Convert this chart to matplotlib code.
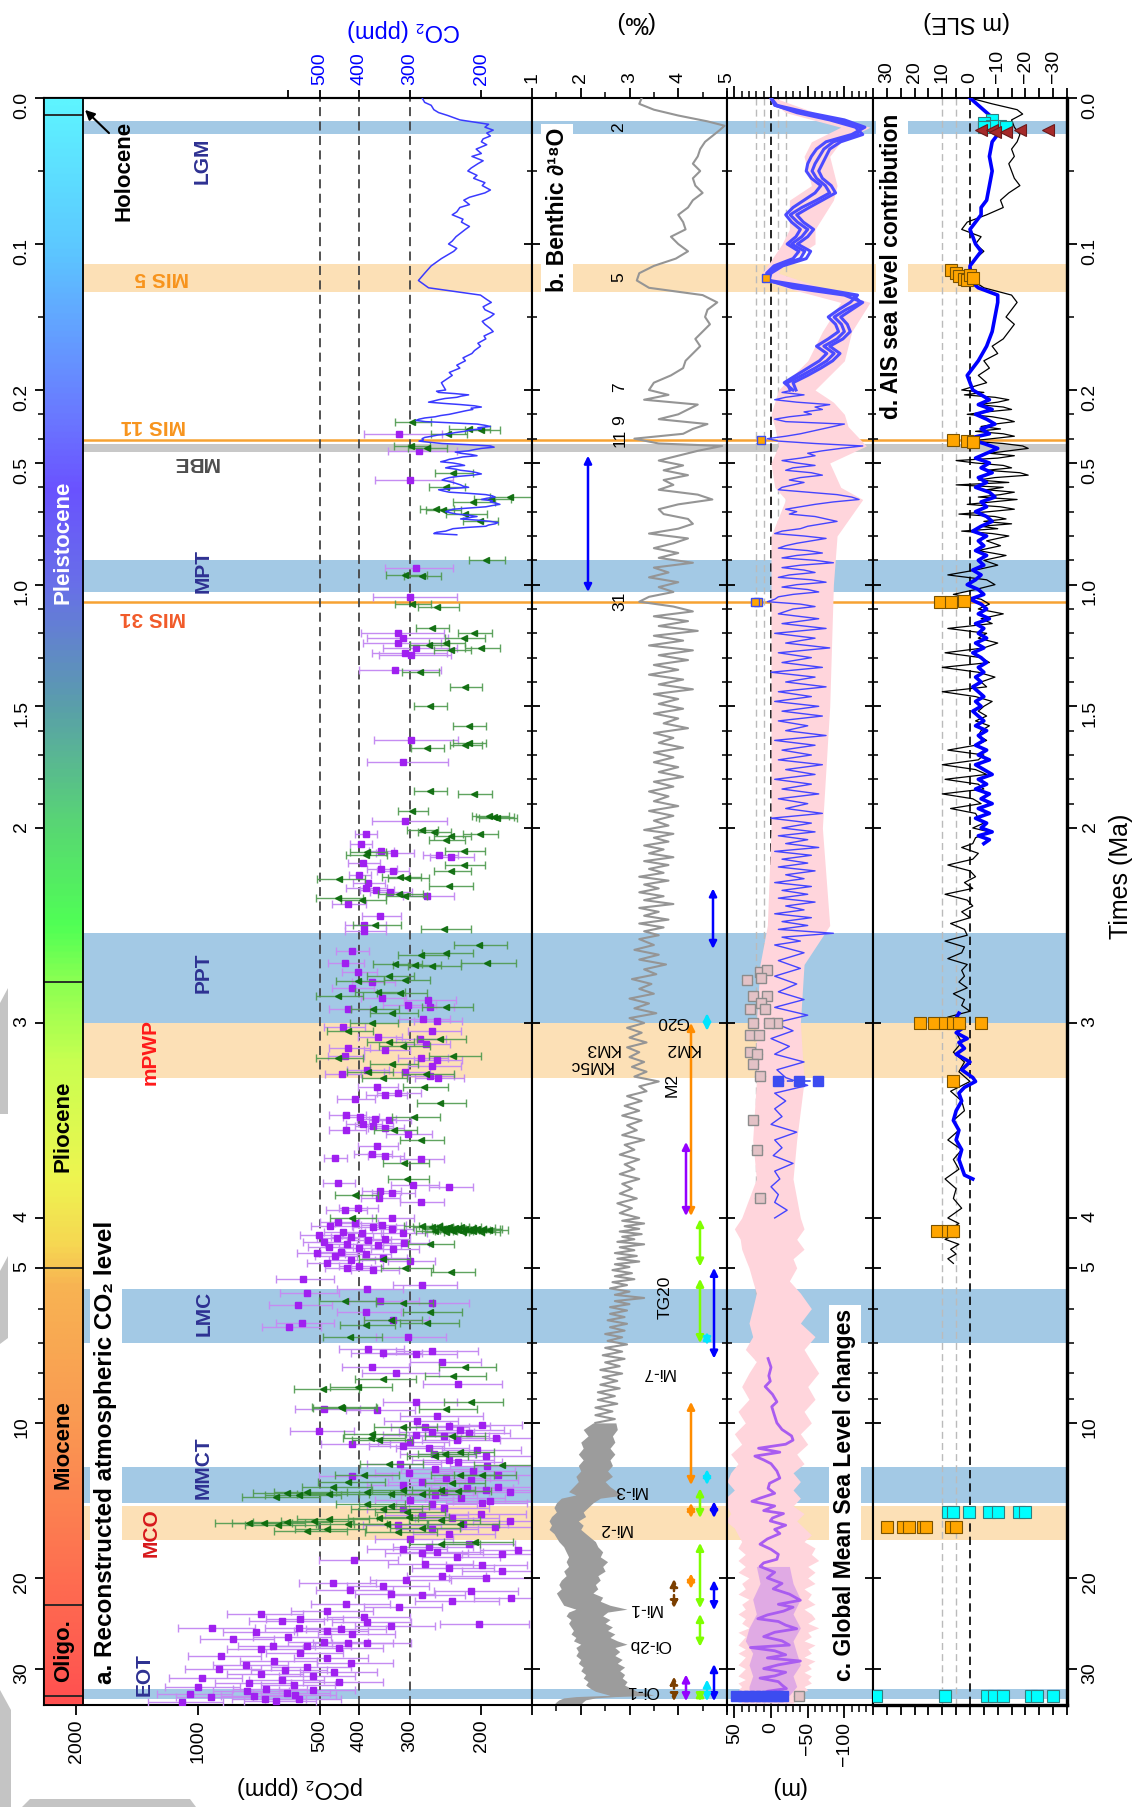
import numpy as np
import matplotlib
matplotlib.use("Agg")
import matplotlib.pyplot as plt
from matplotlib.colors import LinearSegmentedColormap
from matplotlib.ticker import NullLocator
from matplotlib.transforms import blended_transform_factory
from matplotlib.patches import Polygon

W, H = 1139, 1807
T_MAX = 35.3

# ---------------------------------------------------------------- data
# ice core CO2 (Ma, ppm)
ice_co2 = [(0.0, 280), (0.003, 276), (0.005, 266), (0.008, 262), (0.01, 255), (0.012, 242),
           (0.015, 226), (0.018, 192), (0.02, 196), (0.022, 187), (0.024, 194), (0.026, 190),
           (0.028, 198), (0.03, 200), (0.032, 194), (0.035, 206), (0.038, 200), (0.04, 211),
           (0.043, 198), (0.045, 204), (0.048, 212), (0.05, 216), (0.053, 205), (0.055, 209),
           (0.058, 196), (0.06, 199), (0.063, 190), (0.065, 196), (0.068, 214), (0.07, 221),
           (0.073, 214), (0.075, 226), (0.078, 230), (0.08, 236), (0.083, 222), (0.085, 224),
           (0.088, 214), (0.09, 219), (0.093, 226), (0.095, 231), (0.098, 236), (0.1, 241),
           (0.103, 230), (0.105, 234), (0.108, 244), (0.11, 251), (0.115, 266), (0.12, 276),
           (0.125, 286), (0.13, 270), (0.135, 201), (0.138, 194), (0.14, 189), (0.143, 198),
           (0.145, 196), (0.148, 186), (0.15, 190), (0.153, 199), (0.155, 196), (0.158, 190),
           (0.16, 187), (0.163, 197), (0.165, 195), (0.168, 204), (0.17, 201), (0.173, 208),
           (0.175, 211), (0.178, 222), (0.18, 219), (0.183, 230), (0.185, 226), (0.188, 240),
           (0.19, 236), (0.195, 251),
           (0.200, 245), (0.205, 258), (0.21, 255), (0.215, 232), (0.22, 215), (0.225, 224),
           (0.23, 230), (0.235, 246), (0.24, 255), (0.245, 262), (0.25, 270), (0.255, 248),
           (0.26, 225), (0.265, 208), (0.27, 200), (0.275, 212), (0.28, 210), (0.285, 218),
           (0.29, 225), (0.295, 232), (0.30, 240), (0.305, 252), (0.31, 260), (0.315, 276),
           (0.32, 285), (0.325, 290), (0.33, 275), (0.335, 236), (0.34, 205), (0.345, 196),
           (0.35, 190), (0.355, 204), (0.36, 200), (0.365, 214), (0.37, 220), (0.375, 232),
           (0.38, 240), (0.385, 256), (0.39, 265), (0.395, 276), (0.40, 280), (0.405, 278),
           (0.41, 285), (0.415, 268), (0.42, 250), (0.425, 214), (0.43, 190), (0.435, 186),
           (0.44, 200), (0.445, 208), (0.45, 215), (0.455, 232), (0.46, 225), (0.465, 212),
           (0.47, 205), (0.475, 222), (0.48, 230), (0.485, 240), (0.49, 245), (0.495, 252),
           (0.50, 235), (0.505, 226), (0.51, 220), (0.515, 238), (0.52, 245), (0.525, 232),
           (0.53, 225), (0.535, 212), (0.54, 205), (0.545, 200), (0.55, 210), (0.555, 228),
           (0.56, 240), (0.565, 246), (0.57, 250), (0.575, 242), (0.58, 235), (0.585, 230),
           (0.59, 225), (0.595, 222), (0.60, 215), (0.605, 238), (0.61, 255), (0.615, 248),
           (0.62, 240), (0.625, 214), (0.63, 195), (0.635, 188), (0.64, 185), (0.645, 194),
           (0.65, 200), (0.655, 188), (0.66, 190), (0.665, 184), (0.67, 180), (0.675, 188),
           (0.68, 195), (0.685, 214), (0.69, 235), (0.695, 240), (0.70, 245), (0.705, 238),
           (0.71, 230), (0.715, 214), (0.72, 205), (0.725, 216), (0.73, 225), (0.735, 204),
           (0.74, 190), (0.745, 182), (0.75, 185), (0.755, 192), (0.76, 195), (0.765, 218),
           (0.77, 235), (0.775, 240), (0.78, 245), (0.785, 258), (0.79, 262), (0.795, 230)]

# proxy CO2, squares (Ma, ppm, +/- ppm)
co2_sq_pleist = [
    (0.38, 320, 70), (0.45, 285, 55), (0.57, 300, 65), (0.93, 290, 55), (1.05, 300, 70),
    (1.20, 322, 75), (1.22, 312, 70), (1.24, 322, 70), (1.26, 290, 60), (1.28, 308, 65),
    (1.29, 298, 60), (1.35, 326, 75), (1.64, 298, 70), (1.73, 312, 70), (1.97, 308, 65),
    (2.03, 386, 25), (2.08, 397, 25), (2.12, 353, 25), (2.13, 328, 35), (2.14, 254, 25),
    (2.15, 238, 30), (2.18, 391, 35), (2.21, 353, 30), (2.22, 331, 30), (2.24, 400, 25),
    (2.28, 380, 35), (2.31, 386, 45), (2.32, 363, 35), (2.33, 337, 40), (2.35, 273, 40),
    (2.39, 426, 40), (2.45, 355, 40), (2.50, 389, 45)]
co2_sq_plio = [
    (2.53, 389, 45), (2.63, 418, 40), (2.69, 434, 45), (2.74, 402, 40), (2.79, 372, 45),
    (2.82, 418, 50), (2.87, 352, 45), (2.88, 271, 40), (2.91, 304, 45), (2.92, 268, 35),
    (2.93, 426, 50), (2.98, 279, 40), (2.99, 258, 35), (3.02, 438, 50), (3.04, 264, 40),
    (3.07, 359, 45), (3.08, 284, 40), (3.11, 274, 35), (3.13, 426, 50), (3.14, 345, 45),
    (3.17, 434, 45), (3.18, 282, 40), (3.19, 258, 35), (3.22, 264, 40), (3.24, 383, 45),
    (3.25, 308, 40), (3.26, 442, 45), (3.27, 268, 35), (3.28, 256, 35), (3.33, 362, 40),
    (3.36, 322, 40), (3.37, 345, 40), (3.39, 410, 45), (3.47, 431, 45), (3.48, 398, 40),
    (3.49, 365, 40), (3.50, 338, 40), (3.52, 391, 40), (3.53, 370, 40), (3.54, 345, 35),
    (3.55, 431, 45), (3.57, 304, 40), (3.63, 362, 40), (3.67, 372, 40), (3.68, 346, 35),
    (3.69, 459, 30), (3.70, 282, 35), (3.82, 451, 40), (3.83, 295, 40), (3.84, 240, 30),
    (3.86, 355, 40), (3.87, 332, 40), (3.90, 357, 40), (3.92, 282, 35), (3.95, 404, 45),
    (3.96, 434, 50), (4.00, 333, 40), (4.08, 451, 50), (4.10, 410, 50), (4.12, 352, 45),
    (4.15, 472, 55), (4.17, 370, 45), (4.20, 333, 40), (4.25, 438, 50), (4.27, 394, 45),
    (4.28, 313, 40), (4.32, 502, 60), (4.35, 420, 50), (4.38, 455, 55), (4.40, 345, 45),
    (4.42, 380, 45), (4.45, 490, 60), (4.47, 310, 40), (4.50, 430, 55), (4.52, 360, 45),
    (4.55, 475, 60), (4.58, 400, 50), (4.60, 330, 45), (4.65, 445, 55), (4.68, 510, 60),
    (4.70, 385, 50), (4.75, 460, 55), (4.78, 350, 45), (4.82, 420, 55), (4.85, 300, 40),
    (4.90, 480, 60), (4.95, 400, 50), (5.00, 430, 55), (5.05, 370, 50)]
co2_sq_mio = [
    (5.25, 552, 90), (5.40, 280, 50), (5.50, 383, 70), (5.60, 538, 90), (5.80, 355, 70),
    (5.85, 264, 50), (5.90, 568, 100), (6.10, 385, 70), (6.30, 330, 60), (6.40, 553, 90),
    (6.50, 597, 100), (6.80, 304, 60), (7.20, 380, 70), (7.25, 264, 60), (7.30, 350, 70),
    (7.35, 290, 60), (7.60, 250, 50), (7.80, 372, 70), (8.00, 325, 70), (8.40, 228, 50),
    (9.10, 290, 60), (9.40, 488, 90), (9.45, 362, 70), (9.70, 258, 60), (9.90, 288, 60),
    (10.1, 199, 40), (10.15, 240, 50), (10.2, 275, 60), (10.3, 226, 50), (10.35, 503, 90),
    (10.4, 264, 55), (10.45, 215, 45), (10.55, 290, 60), (10.6, 247, 55), (10.7, 184, 40),
    (10.8, 230, 50), (10.9, 300, 60), (11.0, 417, 80), (11.1, 313, 65), (11.2, 270, 55),
    (11.3, 205, 45), (11.5, 262, 55), (11.6, 195, 45), (11.8, 241, 55), (11.9, 228, 50),
    (12.0, 317, 65), (12.1, 194, 45), (12.3, 260, 55), (12.4, 210, 45), (12.5, 301, 65),
    (12.6, 182, 45), (12.7, 417, 85), (12.8, 245, 55), (12.9, 212, 50), (13.0, 280, 60),
    (13.2, 313, 70), (13.3, 182, 45), (13.4, 217, 50), (13.5, 195, 45), (13.6, 247, 55),
    (13.65, 170, 40), (13.8, 260, 55), (14.0, 225, 50), (14.1, 300, 65), (14.2, 190, 45),
    (14.3, 199, 45), (14.4, 265, 60), (14.6, 247, 55), (14.7, 313, 70), (15.0, 200, 45),
    (15.1, 281, 65), (15.3, 236, 55), (15.5, 170, 40), (15.7, 222, 50), (15.75, 322, 70),
    (15.9, 185, 40), (16.1, 264, 60), (16.4, 240, 55), (16.8, 300, 65), (17.2, 215, 50),
    (17.4, 270, 60), (17.6, 313, 70), (17.65, 162, 40), (17.8, 258, 60), (17.9, 281, 65),
    (18.0, 178, 45), (18.2, 230, 50), (18.5, 412, 90), (18.8, 275, 65), (18.85, 199, 45),
    (19.1, 241, 55), (19.4, 178, 45), (19.8, 250, 55), (20.0, 195, 45), (20.2, 307, 70),
    (20.5, 464, 100), (20.7, 349, 80), (21.1, 421, 90), (21.2, 212, 50), (21.5, 335, 75),
    (21.6, 280, 60), (21.9, 169, 40), (22.2, 236, 55), (22.5, 431, 95), (22.8, 320, 70),
    (23.2, 480, 110), (23.5, 700, 150), (23.8, 390, 90), (24.0, 560, 120), (24.3, 620, 130),
    (24.4, 383, 85), (24.6, 203, 50), (24.8, 335, 75), (25.0, 922, 200), (25.05, 564, 120),
    (25.1, 443, 100), (25.3, 480, 100), (25.5, 719, 150), (25.7, 417, 90), (26.0, 600, 130),
    (26.3, 820, 170), (26.6, 490, 110), (26.7, 383, 85), (26.8, 426, 95), (27.1, 540, 120),
    (27.15, 655, 140), (27.3, 450, 100), (27.5, 700, 150), (28.0, 560, 120), (28.3, 880, 180),
    (28.6, 480, 100), (29.0, 650, 140), (29.2, 420, 90), (29.5, 760, 160), (29.8, 540, 120),
    (30.0, 890, 190), (30.2, 610, 130), (30.4, 461, 100), (30.7, 700, 150), (31.0, 520, 110),
    (31.3, 980, 200), (31.5, 620, 130), (31.8, 450, 100), (32.0, 750, 160), (32.3, 580, 120),
    (32.6, 1000, 210), (32.8, 680, 140), (33.0, 520, 110), (33.2, 758, 160), (33.4, 602, 130),
    (33.6, 1046, 220), (33.8, 578, 120), (33.9, 726, 150), (34.1, 931, 200), (34.3, 565, 120),
    (34.4, 683, 140), (34.6, 641, 130), (34.8, 1098, 230)]

# proxy CO2, triangles (Ma, ppm, +/- ppm)
co2_tri_pleist = [
    (0.33, 296, 30), (0.36, 215, 25), (0.365, 200, 20), (0.38, 242, 25), (0.43, 298, 30),
    (0.44, 273, 30), (0.54, 235, 25), (0.60, 245, 25), (0.64, 170, 20), (0.65, 189, 20),
    (0.66, 210, 25), (0.69, 259, 25), (0.695, 249, 25), (0.71, 219, 25), (0.74, 202, 20),
    (0.90, 195, 20), (0.96, 308, 35), (0.965, 281, 30), (1.08, 296, 30), (1.09, 257, 30),
    (1.18, 265, 25), (1.20, 208, 20), (1.22, 221, 25), (1.24, 245, 25), (1.25, 270, 30),
    (1.26, 200, 20), (1.27, 237, 25), (1.36, 284, 30), (1.42, 219, 20), (1.50, 268, 25),
    (1.58, 215, 20), (1.65, 215, 20), (1.66, 219, 20), (1.67, 273, 25), (1.85, 268, 25),
    (1.86, 208, 20), (1.93, 296, 25), (1.95, 191, 20), (1.955, 186, 20), (1.96, 183, 20),
    (2.01, 281, 25), (2.02, 262, 25), (2.03, 202, 20), (2.04, 237, 25), (2.06, 245, 25),
    (2.12, 221, 25), (2.125, 383, 40), (2.14, 386, 45), (2.19, 221, 25), (2.22, 237, 25),
    (2.25, 317, 35), (2.255, 305, 35), (2.26, 448, 60), (2.30, 240, 30), (2.34, 319, 40),
    (2.35, 308, 35), (2.36, 451, 60), (2.37, 394, 50)]
co2_tri_plio = [
    (2.50, 365, 50), (2.52, 247, 35), (2.60, 203, 30), (2.64, 245, 35), (2.65, 282, 40),
    (2.69, 194, 30), (2.70, 326, 45), (2.705, 291, 40), (2.71, 264, 40), (2.76, 338, 45),
    (2.78, 308, 40), (2.785, 402, 55), (2.84, 359, 50), (2.845, 317, 45), (2.86, 451, 60),
    (2.92, 245, 35), (2.93, 370, 50), (2.95, 332, 45), (3.00, 372, 50), (3.04, 426, 55),
    (3.08, 253, 35), (3.10, 338, 45), (3.12, 313, 45), (3.17, 235, 35), (3.18, 451, 60),
    (3.21, 332, 45), (3.25, 380, 50), (3.26, 274, 40), (3.28, 350, 45), (3.33, 277, 35),
    (3.41, 253, 35), (3.48, 293, 40), (3.55, 329, 40), (3.60, 282, 35), (3.72, 310, 40),
    (3.80, 305, 35), (3.88, 410, 50), (4.00, 418, 55),
    (4.14, 280, 30), (4.15, 255, 30), (4.16, 240, 25), (4.165, 225, 25), (4.17, 265, 30),
    (4.18, 210, 25), (4.185, 245, 30), (4.19, 232, 25), (4.195, 198, 20), (4.20, 220, 25),
    (4.205, 250, 30), (4.21, 205, 25), (4.215, 238, 25), (4.22, 215, 25), (4.225, 228, 25),
    (4.23, 192, 20), (4.235, 260, 30), (4.24, 210, 25), (4.245, 235, 25), (4.25, 200, 20),
    (4.255, 222, 25), (4.26, 245, 30), (4.5, 268, 35), (4.8, 350, 50), (5.0, 308, 45),
    (5.1, 237, 30)]
co2_tri_mio = [
    (5.8, 434, 70), (5.85, 313, 50), (6.1, 268, 45), (6.3, 335, 55), (6.4, 272, 45),
    (6.45, 386, 60), (6.8, 422, 70), (7.8, 219, 35), (8.1, 235, 40), (8.2, 350, 60),
    (8.5, 402, 70), (8.6, 491, 90), (9.1, 212, 35), (9.3, 443, 80), (9.35, 442, 80),
    (9.4, 245, 40), (10.2, 313, 55), (10.5, 372, 65), (10.6, 236, 40), (10.7, 374, 65),
    (10.8, 357, 60), (11.4, 226, 40), (11.5, 246, 40), (11.6, 261, 45), (12.0, 338, 60),
    (12.05, 178, 30), (12.6, 199, 35), (12.62, 226, 40), (12.65, 389, 70), (13.0, 426, 80),
    (13.1, 236, 40), (13.3, 464, 90), (13.5, 313, 60), (13.52, 252, 45), (13.55, 229, 40),
    (13.6, 539, 110), (13.65, 383, 75), (13.7, 603, 130), (13.72, 474, 95), (13.74, 335, 65),
    (13.75, 281, 55), (13.8, 564, 120), (13.9, 641, 140), (14.4, 383, 75), (14.5, 335, 65),
    (14.7, 350, 70), (14.9, 306, 60), (15.2, 301, 60), (15.3, 357, 70), (15.4, 474, 95),
    (15.42, 252, 50), (15.5, 519, 105), (15.6, 603, 130), (15.62, 748, 160), (15.65, 686, 140),
    (15.7, 226, 45), (15.72, 426, 85), (15.74, 342, 70), (15.8, 636, 130), (16.0, 281, 55),
    (16.1, 480, 95), (16.2, 539, 110), (16.3, 322, 65), (17.0, 207, 40), (17.2, 252, 50)]

# benthic d18O (Ma, permil)
d18o_recent = [
    (0.0, 3.25), (0.004, 3.2), (0.008, 3.5), (0.012, 4.0), (0.016, 4.6), (0.019, 4.95),
    (0.022, 4.85), (0.026, 4.7), (0.03, 4.55), (0.035, 4.45), (0.04, 4.4), (0.045, 4.3),
    (0.05, 4.45), (0.055, 4.3), (0.06, 4.35), (0.065, 4.5), (0.07, 4.3), (0.075, 4.2),
    (0.08, 4.0), (0.085, 4.1), (0.09, 4.15), (0.095, 3.85), (0.1, 4.0), (0.105, 4.2),
    (0.11, 3.95), (0.115, 3.5), (0.12, 3.2), (0.125, 3.15), (0.13, 3.4), (0.135, 4.5),
    (0.14, 4.8), (0.145, 4.6), (0.15, 4.55), (0.155, 4.65), (0.16, 4.5), (0.165, 4.35),
    (0.17, 4.45), (0.175, 4.3), (0.18, 4.15), (0.185, 4.1), (0.19, 3.85), (0.195, 3.5),
    (0.20, 3.4), (0.22, 3.8), (0.24, 3.3), (0.26, 4.4), (0.28, 4.2), (0.30, 4.0),
    (0.32, 3.6), (0.34, 4.6), (0.36, 4.3), (0.38, 4.1), (0.40, 3.1), (0.42, 3.6),
    (0.43, 4.9), (0.45, 4.4), (0.47, 4.0), (0.49, 3.6), (0.51, 4.1), (0.53, 3.7),
    (0.55, 4.2), (0.57, 3.7), (0.59, 3.9), (0.61, 3.6), (0.63, 4.4), (0.65, 4.7),
    (0.67, 4.0), (0.69, 3.6), (0.71, 3.7), (0.73, 4.2), (0.75, 4.3), (0.77, 4.0),
    (0.79, 3.4), (0.81, 4.2), (0.83, 3.9), (0.85, 3.5), (0.87, 4.0), (0.89, 3.6),
    (0.91, 4.3), (0.93, 3.5), (0.95, 3.8), (0.97, 3.4), (0.99, 4.0), (1.01, 3.6),
    (1.03, 3.9), (1.05, 3.4), (1.07, 3.2), (1.09, 3.9), (1.11, 4.3), (1.13, 3.5),
    (1.15, 4.2), (1.17, 3.6), (1.19, 4.4), (1.21, 3.5), (1.23, 4.1), (1.25, 3.4),
    (1.27, 4.3), (1.29, 3.6), (1.31, 4.2), (1.33, 3.5), (1.35, 4.0), (1.37, 3.4),
    (1.39, 4.1), (1.41, 3.6), (1.43, 4.3), (1.45, 3.5), (1.47, 4.0), (1.49, 3.6),
    (1.51, 4.1), (1.53, 3.5), (1.55, 4.0), (1.57, 3.7), (1.59, 4.2), (1.61, 3.5),
    (1.63, 3.9), (1.65, 3.6), (1.67, 4.1), (1.69, 3.5), (1.71, 3.9), (1.73, 3.5),
    (1.75, 4.0), (1.77, 3.6), (1.79, 4.1), (1.81, 3.5), (1.83, 3.9), (1.85, 3.4),
    (1.87, 3.8), (1.89, 3.5), (1.91, 4.0), (1.93, 3.4), (1.95, 3.9), (1.97, 3.5),
    (1.99, 3.8), (2.01, 3.3), (2.03, 3.9), (2.05, 3.5), (2.07, 3.8), (2.09, 3.3),
    (2.11, 3.7), (2.13, 3.4), (2.15, 3.9), (2.17, 3.3), (2.19, 3.8), (2.21, 3.4),
    (2.23, 3.7), (2.25, 3.2), (2.27, 3.8), (2.29, 3.3), (2.31, 3.6), (2.33, 3.2),
    (2.35, 3.7), (2.37, 3.3), (2.39, 3.9), (2.41, 3.2), (2.43, 3.6), (2.45, 3.3),
    (2.47, 3.8), (2.49, 3.2), (2.51, 3.7), (2.53, 3.3), (2.55, 3.6), (2.57, 3.2),
    (2.600, 3.5), (2.625, 3.1), (2.650, 3.6), (2.675, 3.2), (2.700, 3.75), (2.725, 3.3),
    (2.750, 3.55), (2.775, 3.05), (2.800, 3.45), (2.825, 3.2), (2.850, 3.5), (2.875, 3.0),
    (2.900, 3.4), (2.925, 3.1), (2.950, 3.55), (2.975, 3.0), (3.000, 3.3), (3.025, 2.95),
    (3.050, 3.25), (3.075, 3.0), (3.100, 3.35), (3.125, 2.95), (3.150, 3.2), (3.175, 3.0),
    (3.200, 3.3), (3.225, 3.05), (3.250, 3.35), (3.275, 3.1), (3.300, 3.6), (3.325, 3.2),
    (3.350, 3.35), (3.375, 2.95), (3.400, 3.25), (3.425, 2.9), (3.450, 3.2), (3.475, 2.85),
    (3.500, 3.25), (3.525, 2.95), (3.550, 3.15), (3.575, 2.85), (3.600, 3.3), (3.625, 2.9),
    (3.650, 3.1), (3.675, 2.8), (3.700, 3.2), (3.725, 2.9), (3.750, 3.1), (3.775, 2.8),
    (3.800, 3.2), (3.825, 2.85), (3.850, 3.05), (3.875, 2.8), (3.900, 3.15), (3.925, 2.75),
    (3.950, 3.05), (3.975, 2.8), (4.000, 3.2), (4.05, 2.85), (4.1, 3.3), (4.15, 2.9),
    (4.2, 3.2), (4.25, 2.8), (4.3, 3.25), (4.35, 2.85), (4.4, 3.1), (4.45, 2.75), (4.5, 3.3),
    (4.56, 2.8), (4.62, 3.1), (4.68, 2.7), (4.74, 3.15), (4.8, 2.75), (4.86, 3.2), (4.92, 2.7),
    (4.98, 3.0), (5.05, 2.65), (5.12, 3.05), (5.19, 2.7), (5.26, 3.1), (5.33, 2.65), (5.4, 2.95),
    (5.48, 2.6), (5.56, 3.0), (5.64, 2.7), (5.72, 3.3), (5.8, 2.7), (5.88, 3.0), (5.96, 2.6),
    (6.05, 2.95), (6.14, 2.6), (6.23, 2.9), (6.32, 2.55), (6.42, 2.95), (6.52, 2.6), (6.62, 2.9),
    (6.72, 2.5), (6.82, 2.85), (6.93, 2.55), (7.04, 2.95), (7.15, 2.5), (7.27, 2.85), (7.39, 2.45),
    (7.51, 2.9), (7.63, 2.5), (7.76, 2.8), (7.89, 2.4), (8.02, 2.85), (8.15, 2.45), (8.29, 2.75),
    (8.43, 2.4), (8.57, 2.8), (8.72, 2.35), (8.87, 2.7), (9.02, 2.35), (9.18, 2.75), (9.34, 2.3),
    (9.5, 2.65), (9.66, 2.3), (9.83, 2.7), (10.0, 2.3)]
# benthic d18O, older high-resolution part shown as its spread: (Ma, low, high)
d18o_older = [
    (10.0, 2.25, 2.72), (10.3, 2.05, 2.75), (10.6, 2.15, 2.65), (10.9, 2.0, 2.7), (11.2, 2.05, 2.6),
    (11.5, 1.95, 2.7), (11.8, 2.05, 2.6), (12.1, 1.95, 2.65), (12.4, 2.0, 2.55), (12.7, 1.9, 2.65),
    (13.0, 1.95, 2.5), (13.3, 1.85, 2.6), (13.6, 1.75, 2.75), (13.8, 1.9, 2.9), (14.0, 1.6, 2.4),
    (14.3, 1.5, 2.25), (14.6, 1.45, 2.15), (14.9, 1.5, 2.05), (15.2, 1.4, 2.1), (15.5, 1.35, 1.95),
    (15.8, 1.4, 2.05), (16.1, 1.35, 2.0), (16.4, 1.45, 2.1), (16.7, 1.5, 2.2), (17.0, 1.55, 2.3),
    (17.4, 1.65, 2.35), (17.8, 1.7, 2.45), (18.2, 1.75, 2.4), (18.6, 1.7, 2.55), (19.0, 1.75, 2.45),
    (19.4, 1.65, 2.5), (19.8, 1.7, 2.35), (20.2, 1.6, 2.4), (20.6, 1.55, 2.3), (21.0, 1.6, 2.35),
    (21.4, 1.5, 2.25), (21.8, 1.55, 2.45), (22.2, 1.6, 2.4), (22.6, 1.65, 2.6), (23.0, 1.9, 2.95),
    (23.3, 1.75, 2.55), (23.7, 1.7, 2.45), (24.1, 1.8, 2.6), (24.5, 1.75, 2.5), (24.9, 1.8, 2.65),
    (25.3, 1.85, 2.55), (25.7, 1.8, 2.7), (26.1, 1.9, 2.6), (26.5, 1.85, 2.75), (26.9, 2.0, 2.95),
    (27.3, 1.9, 2.7), (27.8, 1.95, 2.8), (28.3, 1.9, 2.7), (28.8, 2.0, 2.85), (29.3, 1.95, 2.75),
    (29.8, 2.05, 2.9), (30.3, 2.0, 2.8), (30.8, 2.1, 2.9), (31.3, 2.05, 2.85), (31.8, 2.15, 2.95),
    (32.3, 2.1, 2.9), (32.8, 2.2, 3.05), (33.2, 2.3, 3.15), (33.5, 2.45, 3.35), (33.8, 2.6, 3.5),
    (34.0, 1.9, 2.7), (34.2, 1.65, 2.3), (34.5, 1.55, 2.1), (34.8, 1.5, 2.05), (35.2, 1.45, 2.0)]

# global mean sea level (Ma, m)
gmsl_late_a = [(0, 0), (0.005, -5), (0.01, -40), (0.015, -90), (0.02, -122), (0.025, -118),
               (0.03, -85), (0.035, -72), (0.04, -66), (0.045, -60), (0.05, -56), (0.055, -62),
               (0.06, -74), (0.065, -80), (0.07, -62), (0.075, -42), (0.08, -26), (0.085, -36),
               (0.09, -50), (0.095, -42), (0.1, -28), (0.105, -46), (0.11, -40), (0.115, -10),
               (0.12, 4), (0.125, 5), (0.13, -40), (0.135, -112), (0.14, -122), (0.145, -102),
               (0.15, -86), (0.155, -96), (0.16, -100), (0.165, -90), (0.17, -72), (0.175, -86),
               (0.18, -76), (0.185, -60), (0.19, -42), (0.195, -22), (0.2, -26)]
gmsl_late_b = [(0, 0), (0.005, -8), (0.01, -50), (0.015, -100), (0.02, -128), (0.025, -110),
               (0.03, -75), (0.035, -62), (0.04, -55), (0.045, -50), (0.05, -48), (0.055, -55),
               (0.06, -68), (0.065, -60), (0.07, -45), (0.075, -30), (0.08, -20), (0.085, -28),
               (0.09, -40), (0.095, -34), (0.1, -22), (0.105, -38), (0.11, -30), (0.115, -4),
               (0.12, 6), (0.125, 2), (0.13, -60), (0.135, -118), (0.14, -108), (0.145, -92),
               (0.15, -78), (0.155, -88), (0.16, -92), (0.165, -78), (0.17, -62), (0.175, -76),
               (0.18, -66), (0.185, -50), (0.19, -34), (0.195, -18), (0.2, -30)]
gmsl_late_c = [(0, 0), (0.005, -6), (0.01, -35), (0.015, -80), (0.02, -115), (0.025, -125),
               (0.03, -95), (0.035, -80), (0.04, -75), (0.045, -70), (0.05, -65), (0.055, -70),
               (0.06, -82), (0.065, -88), (0.07, -70), (0.075, -52), (0.08, -35), (0.085, -44),
               (0.09, -58), (0.095, -50), (0.1, -36), (0.105, -54), (0.11, -48), (0.115, -16),
               (0.12, 0), (0.125, 3), (0.13, -30), (0.135, -100), (0.14, -125), (0.145, -110),
               (0.15, -95), (0.155, -104), (0.16, -108), (0.165, -98), (0.17, -80), (0.175, -94),
               (0.18, -84), (0.185, -68), (0.19, -50), (0.195, -30), (0.2, -34)]
gmsl_plio_pleist = [
    (0.20, -30), (0.21, -15), (0.22, -45), (0.23, -20), (0.24, -5), (0.25, -35), (0.26, -80),
    (0.27, -60), (0.28, -70), (0.29, -45), (0.30, -55), (0.31, -25), (0.32, -5), (0.33, -20),
    (0.34, -100), (0.35, -85), (0.36, -70), (0.37, -55), (0.38, -40), (0.39, -20), (0.40, 5),
    (0.41, -10), (0.42, -60), (0.43, -125), (0.44, -95), (0.45, -70), (0.46, -50), (0.47, -60),
    (0.48, -40), (0.49, -15), (0.50, -35), (0.51, -60), (0.52, -30), (0.53, -20), (0.54, -55),
    (0.55, -70), (0.56, -40), (0.57, -25), (0.58, -45), (0.59, -30), (0.60, -15), (0.61, -10),
    (0.62, -50), (0.63, -90), (0.64, -110), (0.65, -120), (0.66, -85), (0.67, -60), (0.68, -40),
    (0.69, -20), (0.70, -35), (0.71, -25), (0.72, -60), (0.73, -75), (0.74, -90), (0.75, -70),
    (0.76, -50), (0.77, -40), (0.78, -15), (0.79, -5), (0.80, -45), (0.81, -75), (0.82, -55),
    (0.83, -35), (0.84, -20), (0.85, -10), (0.86, -50), (0.87, -70), (0.88, -35), (0.89, -15),
    (0.90, -60), (0.91, -85), (0.92, -40), (0.93, -15), (0.94, -45), (0.95, -60), (0.96, -25),
    (0.97, -10), (0.98, -55), (0.99, -75), (1.00, -35), (1.01, -15), (1.02, -50), (1.03, -65),
    (1.04, -30), (1.05, -10), (1.06, -5), (1.07, 5), (1.08, -40), (1.09, -60), (1.10, -30),
    (1.12, -10), (1.14, -65), (1.16, -15), (1.18, -75), (1.20, -5), (1.22, -60), (1.24, -20),
    (1.26, -80), (1.28, -10), (1.30, -55), (1.32, -15), (1.34, -70), (1.36, 0), (1.38, -60),
    (1.40, -20), (1.42, -75), (1.44, -10), (1.46, -55), (1.48, -5), (1.50, -65), (1.52, -15),
    (1.54, -70), (1.56, -10), (1.58, -50), (1.60, -20), (1.62, -75), (1.64, -5), (1.66, -60),
    (1.68, -15), (1.70, -55), (1.72, -10), (1.74, -70), (1.76, -20), (1.78, -60), (1.80, -5),
    (1.82, -55), (1.84, -15), (1.86, -65), (1.88, -10), (1.90, -50), (1.92, -20), (1.94, -70),
    (1.96, 0), (1.98, -55), (2.00, -15), (2.02, -60), (2.04, -10), (2.06, -50), (2.08, -20),
    (2.10, -65), (2.12, -5), (2.14, -55), (2.16, -15), (2.18, -50), (2.20, -10), (2.22, -60),
    (2.24, -20), (2.26, -45), (2.28, -5), (2.30, -55), (2.32, -15), (2.34, -50), (2.36, -10),
    (2.38, -60), (2.40, -20), (2.42, -45), (2.44, -5), (2.46, -55), (2.48, -15), (2.50, -50),
    (2.52, -10), (2.54, -85), (2.56, -15), (2.58, -40), (2.60, -5), (2.64, -45), (2.68, -10),
    (2.72, -40), (2.76, -5), (2.80, -35), (2.84, -10), (2.88, -45), (2.92, -5), (2.96, -50),
    (3.00, -5), (3.04, -30), (3.08, 0), (3.12, -25), (3.16, -5), (3.20, -45), (3.24, -8),
    (3.28, -20), (3.32, -50), (3.36, -5), (3.40, -20), (3.44, -5), (3.48, -15), (3.52, 0),
    (3.56, -35), (3.60, -5), (3.64, -15), (3.68, -3), (3.72, -30), (3.76, -5), (3.80, -12),
    (3.84, 0), (3.88, -10), (3.92, -5), (3.96, -22), (4.00, -5)]
gmsl_mio = [
    (7.5, 4), (7.8, 0), (8.1, 3), (8.3, 1), (8.5, 8), (8.8, -2), (9.1, -8), (9.3, -1),
    (9.6, -4), (10.0, -8), (10.3, -15), (10.6, -28), (10.8, -30), (11.0, -20), (11.2, 17),
    (11.4, -12), (11.6, 22), (11.8, 10), (12.0, 0), (12.4, -8), (12.8, -12), (13.1, 2),
    (13.4, 4), (13.7, -5), (14.0, 15), (14.2, 26), (14.5, -5), (14.8, 10), (15.0, -17),
    (15.3, -2), (15.5, 1), (15.8, -20), (16.1, -5), (16.4, -12), (16.8, 5), (17.2, 15),
    (17.6, 0), (18.0, -10), (18.4, -8), (18.7, 10), (19.0, 15), (19.5, -5), (20.0, 5),
    (20.5, -15), (21.0, -3), (21.5, -25), (22.1, -40), (22.5, -10), (22.8, -30), (23.2, -17),
    (23.6, 5), (24.0, 18), (24.3, -10), (24.7, -20), (25.1, -35), (25.5, -5), (26.0, 10),
    (26.5, -15), (27.0, -25), (27.3, 28), (27.7, -5), (28.2, -20), (28.6, 5), (29.0, -40),
    (29.5, -10), (30.0, 10), (30.5, -20), (31.0, -5), (31.3, 15), (31.8, -10), (32.3, -15),
    (32.8, -21), (33.2, 5), (33.6, 10), (33.9, 40)]
# Oligo-Miocene spread (Ma, low, high)
gmsl_mio_spread = [(19.0, -25, 20), (20.5, -30, 15), (22.0, -40, 25), (23.5, -30, 20),
                   (25.0, -40, 30), (26.5, -30, 35), (28.0, -35, 25), (29.5, -40, 30),
                   (31.0, -30, 25), (32.5, -35, 30), (33.8, -25, 30)]
# sea-level uncertainty envelope (Ma, low, high)
gmsl_band = [
    (0.0, -5, 5), (0.01, -60, -20), (0.02, -135, -95), (0.03, -95, -55), (0.04, -80, -45),
    (0.06, -90, -55), (0.07, -85, -25), (0.09, -60, -25), (0.1, -60, -15), (0.115, -15, 5),
    (0.12, -10, 12), (0.13, -70, -20), (0.14, -135, -95), (0.16, -110, -70), (0.18, -100, -50),
    (0.2, -60, -10), (0.25, -85, -5), (0.3, -100, 0), (0.35, -105, -5), (0.43, -130, -10),
    (0.5, -80, 0), (0.6, -95, -5), (0.65, -125, -20), (0.8, -90, 0), (1.0, -85, 0),
    (1.5, -80, 0), (2.0, -70, 0), (2.5, -80, 5), (2.7, -45, 15), (3.0, -40, 20),
    (3.3, -45, 20), (3.6, -35, 25), (3.8, -30, 20), (4.0, -40, 40), (4.2, -45, 50),
    (4.4, -35, 42), (4.6, -45, 40), (4.8, -30, 35), (5.0, -35, 30), (5.3, -25, 25),
    (5.6, -40, 20), (6.0, -55, 25), (6.4, -40, 30), (6.8, -60, 25), (7.2, -45, 35),
    (7.6, -55, 20), (8.0, -65, 30), (8.5, -50, 40), (9.0, -60, 30), (9.5, -45, 45),
    (10.0, -55, 35), (10.5, -40, 50), (11.0, -50, 40), (11.5, -35, 55), (12.0, -45, 45),
    (12.5, -30, 55), (13.0, -40, 60), (13.5, -30, 50), (14.0, -40, 62), (14.5, -30, 60),
    (15.0, -45, 55), (15.5, -35, 62), (16.0, -45, 50), (16.5, -55, 45), (17.0, -45, 40),
    (17.5, -60, 45), (18.0, -55, 35), (18.5, -65, 45), (19.0, -50, 35), (19.5, -60, 45),
    (20.0, -50, 30), (20.5, -60, 40), (21.0, -45, 35), (21.5, -55, 45), (22.0, -50, 30),
    (22.5, -60, 40), (23.0, -45, 35), (23.5, -55, 45), (24.0, -60, 35), (24.5, -50, 40),
    (25.0, -65, 30), (25.5, -50, 45), (26.0, -55, 35), (26.5, -45, 40), (27.0, -60, 45),
    (27.5, -50, 35), (28.0, -55, 45), (28.5, -45, 35), (29.0, -60, 40), (29.5, -50, 45),
    (30.0, -55, 35), (30.5, -45, 40), (31.0, -55, 45), (31.5, -50, 35), (32.0, -55, 45),
    (32.5, -45, 40), (33.0, -50, 45), (33.5, -40, 35), (34.0, -40, 45), (35.0, -30, 40)]
gmsl_pts_blue = [(3.3, -10), (3.3, -38), (3.3, -64), (33.95, 48), (33.95, 38), (33.95, 30),
                 (33.95, 22), (33.95, 14), (33.95, 6), (33.95, -2), (33.95, -10), (33.95, -17)]
gmsl_pts_rose = [(2.74, 15), (2.73, 6), (2.78, 33), (2.77, 13), (2.86, 6), (2.86, 24),
                 (2.90, 13), (2.93, 28), (2.93, 8), (3.0, 24), (3.0, -8), (3.0, 3),
                 (3.06, 28), (3.06, 17), (3.15, 28), (3.16, 19), (3.21, 24), (3.27, 15),
                 (3.5, 24), (3.65, 19), (3.9, 15), (33.95, -38)]
gmsl_pts_orange = [(0.123, 7), (0.405, 13), (1.07, 18), (1.072, 22)]

# Antarctic ice sheet contribution (Ma, m SLE)
ais_model = [
    (0, 0), (0.004, -8), (0.008, -17), (0.011, -19), (0.015, -15), (0.02, -16), (0.025, -18),
    (0.03, -17), (0.035, -15), (0.04, -16), (0.045, -14), (0.05, -15), (0.055, -16),
    (0.06, -18), (0.065, -14), (0.07, -11), (0.075, -12), (0.08, -6), (0.085, 1), (0.09, 3),
    (0.095, -4), (0.1, -2), (0.105, -5), (0.11, -2), (0.115, 0), (0.12, -1), (0.125, -1),
    (0.13, -5), (0.135, -15), (0.14, -17), (0.145, -15), (0.15, -13), (0.155, -16),
    (0.16, -14), (0.165, -12), (0.17, -8), (0.175, -10), (0.18, -5), (0.185, -7), (0.19, -3),
    (0.195, -6), (0.2, 3), (0.21, -5), (0.22, 2), (0.23, -9), (0.24, -14), (0.25, -10),
    (0.26, -3), (0.27, -12), (0.28, -15), (0.29, -6), (0.30, 1), (0.31, -8), (0.32, -13),
    (0.33, -16), (0.34, -9), (0.35, -4), (0.36, -11), (0.37, -2), (0.38, -12), (0.39, -16),
    (0.40, -8), (0.41, 0), (0.42, -12), (0.43, -19), (0.44, -21), (0.45, -14), (0.46, -7),
    (0.47, -16), (0.48, -10), (0.49, 5), (0.50, -2), (0.51, -12), (0.52, -15), (0.53, -6),
    (0.54, -18), (0.55, -21), (0.56, -9), (0.57, -3), (0.58, -14), (0.59, 5), (0.60, -12),
    (0.61, -6), (0.62, -16), (0.63, -11), (0.64, -3), (0.65, -17), (0.66, -8), (0.67, 1),
    (0.68, -11), (0.69, -16), (0.70, -7), (0.71, 4), (0.72, -9), (0.73, -13), (0.74, -5),
    (0.75, -15), (0.76, -4), (0.77, -10), (0.78, 3), (0.79, -8), (0.80, -14), (0.82, -6),
    (0.84, -11), (0.86, -3), (0.88, -13), (0.90, -5), (0.92, -10), (0.94, -2), (0.96, 8),
    (0.98, -6), (1.00, -9), (1.02, -2), (1.04, 6), (1.06, -4), (1.08, -7), (1.10, -3),
    (1.12, -12), (1.14, -4), (1.16, -8), (1.18, 8), (1.20, -6), (1.22, -3), (1.24, -10),
    (1.26, -5), (1.28, 9), (1.30, -4), (1.32, -7), (1.34, 10), (1.36, -3), (1.38, -9),
    (1.40, -4), (1.42, -6), (1.44, 10), (1.46, -2), (1.48, -8), (1.50, -5), (1.52, -3),
    (1.54, -6), (1.56, -2), (1.58, -7), (1.60, -4), (1.62, -3), (1.64, -6), (1.66, -2),
    (1.68, 8), (1.70, -5), (1.72, -3), (1.74, 10), (1.76, -2), (1.78, -6), (1.80, 9),
    (1.82, -3), (1.84, -5), (1.86, 10), (1.88, -1), (1.90, -4), (1.92, 7), (1.94, -2),
    (1.96, -3), (1.98, -5), (2.00, -1), (2.02, -7), (2.05, -2), (2.08, -1), (2.10, 3),
    (2.13, -3), (2.16, -1), (2.19, 8), (2.22, 0), (2.25, -2), (2.28, 2), (2.31, -1),
    (2.34, 9), (2.37, 1), (2.40, -1), (2.43, 3), (2.46, 0), (2.49, 7), (2.52, 2), (2.55, 1),
    (2.58, 9), (2.61, 2), (2.64, 3), (2.67, 8), (2.70, 1), (2.73, 3), (2.76, 2), (2.79, 4),
    (2.82, 1), (2.85, 6), (2.88, 2), (2.91, 3), (2.94, 0), (2.97, 8), (3.00, 2), (3.05, 5),
    (3.10, 3), (3.15, 6), (3.20, 2), (3.25, 4), (3.30, 0), (3.35, 7), (3.40, 3), (3.45, 2),
    (3.50, 6), (3.55, 4), (3.60, 8), (3.65, 3), (3.70, 6), (3.75, 4), (3.80, 9), (3.85, 5),
    (3.90, 6), (3.95, 3), (4.00, 8), (4.10, 4), (4.20, 7), (4.30, 5), (4.40, 9), (4.50, 4),
    (4.60, 7), (4.70, 5), (4.80, 8), (4.90, 6)]
ais_recon = [
    (0, 0), (0.005, -3), (0.01, -6), (0.015, -9), (0.02, -11), (0.025, -10), (0.03, -8),
    (0.04, -7), (0.05, -8), (0.06, -7), (0.07, -6), (0.075, -4), (0.08, -4), (0.09, 0),
    (0.1, -2), (0.105, -4), (0.11, -2), (0.115, 0), (0.12, 0), (0.125, 0), (0.13, -3),
    (0.135, -10), (0.14, -10), (0.15, -9), (0.16, -8), (0.17, -6), (0.18, -3), (0.19, 1),
    (0.2, -1), (0.22, -4), (0.24, -7), (0.26, -3), (0.28, -8), (0.30, -2), (0.32, -6),
    (0.34, -9), (0.36, -4), (0.38, -7), (0.40, 1), (0.42, -5), (0.44, -10), (0.46, -6),
    (0.48, -2), (0.50, -7), (0.52, -4), (0.54, -8), (0.56, -3), (0.58, -6), (0.60, -2),
    (0.62, -7), (0.64, -9), (0.66, -4), (0.68, -6), (0.70, -2), (0.72, -6), (0.74, -8),
    (0.76, -4), (0.78, -1), (0.80, -6), (0.82, -3), (0.84, -5), (0.86, -2), (0.88, -6),
    (0.90, -3), (0.92, -5), (0.94, -1), (0.96, -4), (0.98, -2), (1.00, 1), (1.02, -3),
    (1.04, -5), (1.06, 0), (1.08, -4), (1.10, -6), (1.12, -3), (1.14, -7), (1.16, -2),
    (1.18, -5), (1.20, -3), (1.22, -6), (1.24, -2), (1.26, -5), (1.28, -1), (1.30, -4),
    (1.32, -6), (1.34, -3), (1.36, -5), (1.38, -2), (1.40, -4), (1.42, -1), (1.44, -3),
    (1.46, -5), (1.48, -2), (1.50, -4), (1.52, -1), (1.54, -3), (1.56, -5), (1.58, -2),
    (1.60, -6), (1.62, -3), (1.64, -5), (1.66, -2), (1.68, -6), (1.70, -3), (1.72, -7),
    (1.74, -2), (1.76, -5), (1.78, -8), (1.80, -3), (1.82, -6), (1.84, -2), (1.86, -7),
    (1.88, -4), (1.90, -8), (1.92, -3), (1.94, -7), (1.96, -2), (1.98, -6), (2.00, -4),
    (2.02, -8), (2.04, -3), (2.06, -7), (2.08, -5)]
ais_recon_plio = [(2.95, 4), (3.0, 6), (3.02, 2), (3.05, 5), (3.08, 1), (3.1, 4), (3.13, 2),
                  (3.16, 5), (3.2, 0), (3.24, 3), (3.28, -1), (3.3, -2), (3.33, 2), (3.36, 4),
                  (3.4, 3), (3.45, 5), (3.5, 6), (3.55, 4), (3.6, 5), (3.65, 3), (3.7, 4),
                  (3.78, 2), (3.8, -1)]
ais_pts_orange = [(0.118, 7), (0.12, 5), (0.122, 4), (0.124, 2), (0.125, 1), (0.121, 0),
                  (0.123, -1), (0.405, 6), (0.41, 1), (0.412, -1), (1.07, 11), (1.07, 7),
                  (1.068, 2), (3.0, 18), (3.0, 13), (3.0, 9), (3.0, 6), (3.0, 4), (3.0, -4),
                  (3.3, 6), (4.24, 12), (4.24, 8), (4.24, 6), (15.9, 30), (15.9, 24),
                  (15.9, 22), (15.9, 17), (15.9, 16), (15.9, 7), (15.9, 5)]
ais_pts_cyan = [(0.015, -8), (0.017, -5), (0.019, -11), (0.02, -13), (0.019, -8), (0.02, -5),
                (14.9, 8), (14.9, 6), (14.9, 0.5), (14.9, -7), (14.9, -10), (14.9, -17.5),
                (14.9, -20), (33.9, 34), (33.9, 9), (33.9, -6), (33.9, -8.5), (33.9, -12),
                (33.9, -22), (33.9, -24), (33.9, -30)]
ais_pts_tri = [(0.022, -4), (0.022, -8), (0.023, -9), (0.023, -13), (0.022, -18), (0.022, -28)]

# events and epochs
bands_cold = [(0.0155, 0.025), (0.90, 1.03), (2.54, 3.0), (5.5, 7.0), (12.2, 14.3), (32.8, 34.4)]
bands_warm = [(0.114, 0.133), (3.0, 3.28), (14.5, 16.9)]
band_mbe = (0.42, 0.455)
mis_lines = [0.405, 1.071]
epoch_edges = [0.0117, 2.79, 5.0, 22.6, 33.9]
epoch_colors = [(0.0, '#5EF4FF'), (0.1, '#5CC8FF'), (0.3, '#6A78FF'), (0.6, '#6A52FF'),
                (1.0, '#6870E8'), (1.5, '#5A9FAA'), (2.0, '#58D872'), (2.5, '#50FF55'),
                (2.8, '#8CFF52'), (3.2, '#C8FF50'), (3.8, '#EEF550'), (4.5, '#F6D852'),
                (5.5, '#F8B352'), (10.0, '#FA9A52'), (20.0, '#FE6E50'), (30.0, '#FF5A50'),
                (35.3, '#FF5050')]
# glaciation arrows in panel b: (x px, start, end, colour, dashed)
glac_arrows = [(588, 0.47, 1.03, '#0000FF', False), (713, 2.31, 2.62, '#0000FF', False),
               (707, 2.95, 3.04, '#00E5FF', False), (691, 3.0, 3.99, '#FF8C00', False),
               (686, 3.61, 3.99, '#9400FF', False), (700, 4.02, 4.97, '#7FFF00', False),
               (700, 5.25, 7.0, '#7FFF00', False), (714, 5.0, 7.5, '#0000FF', False),
               (707, 6.66, 7.06, '#00E5FF', False), (691, 9.1, 13.2, '#FF8C00', False),
               (707, 12.3, 13.2, '#00E5FF', False), (700, 13.4, 15.3, '#7FFF00', False),
               (691, 14.3, 15.3, '#FF8C00', False), (714, 14.2, 15.3, '#0000FF', False),
               (700, 17.1, 22.9, '#7FFF00', False), (691, 19.6, 21.0, '#FF8C00', False),
               (674, 20.1, 22.9, '#7B3F00', True), (714, 20.2, 23.1, '#0000FF', False),
               (700, 23.5, 27.2, '#7FFF00', False), (714, 29.4, 34.7, '#0000FF', False),
               (674, 31.1, 34.7, '#7B3F00', True), (686, 30.8, 34.7, '#9400FF', False),
               (707, 31.5, 34.7, '#00E5FF', False), (700, 32.9, 34.7, '#7FFF00', False)]

t_major = [0, 0.1, 0.2, 0.5, 1.0, 1.5, 2, 3, 4, 5, 10, 20, 30]
t_major_lab = ['0.0', '0.1', '0.2', '0.5', '1.0', '1.5', '2', '3', '4', '5', '10', '20', '30']
t_minor = [0.05, 0.15, 0.3, 0.4, 0.6, 0.7, 0.8, 0.9, 1.1, 1.2, 1.3, 1.4, 1.6, 1.7, 1.8, 1.9,
           6, 7, 8, 9]


# ---------------------------------------------------------------- time axis
def t_fwd(t):
    t = np.asarray(t, dtype=float)
    a = t * 1460.0
    b = 292.0 + (t - 0.2) * 243.33
    c = 730.0 + (t - 2.0) * 195.0
    d = 1120.0 + 515.0 * np.log10(np.maximum(t, 4.0) / 4.0)
    return np.where(t <= 0.2, a, np.where(t <= 2.0, b, np.where(t <= 4.0, c, d)))


def t_inv(y):
    y = np.asarray(y, dtype=float)
    a = y / 1460.0
    b = 0.2 + (y - 292.0) / 243.33
    c = 2.0 + (y - 730.0) / 195.0
    d = 4.0 * 10 ** ((np.maximum(y, 1120.0) - 1120.0) / 515.0)
    return np.where(y <= 292.0, a, np.where(y <= 730.0, b, np.where(y <= 1120.0, c, d)))


def cols(rows):
    return [list(c) for c in zip(*rows)]


plt.rcParams['font.family'] = ['Liberation Sans', 'DejaVu Sans']
plt.rcParams['axes.linewidth'] = 1.5

BLUE_BAND = '#A3C9E5'
ORANGE_BAND = '#FCE0B6'
NAVY = '#2E3192'

fig = plt.figure(figsize=(W / 100, H / 100), dpi=100)
Y_TOP, Y_BOT = 98, 1705


def box(x0, x1):
    return [x0 / W, 1 - Y_BOT / H, (x1 - x0) / W, (Y_BOT - Y_TOP) / H]


axA = fig.add_axes(box(44, 532))
axB = fig.add_axes(box(532, 727), sharey=axA)
axC = fig.add_axes(box(727, 873), sharey=axA)
axD = fig.add_axes(box(873, 1067), sharey=axA)
axR = fig.add_axes(box(873, 1067), sharey=axA)
axE = fig.add_axes(box(44, 83))

axA.set_yscale('function', functions=(t_fwd, t_inv))
axA.set_ylim(T_MAX, 0)
axA.set_yticks(t_major, labels=t_major_lab)
axA.set_yticks(t_minor, minor=True)

axA.set_xscale('log')
axA.set_xlim(2400, 150)
axB.set_xlim(1, 5)
axC.set_xlim(60, -139)
axD.set_xlim(35, -35)

# y ticks: outer sides point out, inner borders straddle the line
axA.tick_params(axis='y', which='both', direction='out', left=True, right=False,
                labelleft=True, labelright=False, labelrotation=90, labelsize=14)
axA.tick_params(axis='y', which='major', length=6.5, width=1.3)
axA.tick_params(axis='y', which='minor', length=4.3, width=1.1)
for ax in (axB, axC, axD):
    ax.tick_params(axis='y', which='both', direction='inout', left=True, right=False,
                   labelleft=False, labelright=False)
    ax.tick_params(axis='y', which='major', length=12, width=1.3)
    ax.tick_params(axis='y', which='minor', length=7, width=1.1)
axR.patch.set_visible(False)
axR.xaxis.set_visible(False)
for s in axR.spines.values():
    s.set_visible(False)
axR.tick_params(axis='y', which='both', direction='out', left=False, right=True,
                labelleft=False, labelright=True, labelrotation=90, labelsize=14)
axR.tick_params(axis='y', which='major', length=7, width=1.3)
axR.tick_params(axis='y', which='minor', length=5, width=1.1)

# x ticks
axA.set_xticks([2000, 1000, 500, 400, 300, 200], labels=['2000', '1000', '500', '400', '300', '200'])
axA.xaxis.set_minor_locator(NullLocator())
axA.tick_params(axis='x', direction='out', top=False, bottom=True, labelrotation=90,
                labelsize=14, length=7, width=1.3)
secA = axA.secondary_xaxis('top')
secA.set_xticks([200, 300, 400, 500, 600], labels=['200', '300', '400', '500', ''])
secA.xaxis.set_minor_locator(NullLocator())
secA.tick_params(axis='x', direction='out', labelrotation=90, labelsize=14, length=6,
                 width=1.3, labelcolor='#0000FF')

axB.set_xticks([1, 2, 3, 4, 5])
axB.set_xticks([1.5, 2.5, 3.5, 4.5], minor=True)
axB.tick_params(axis='x', which='both', direction='out', top=True, bottom=True,
                labeltop=True, labelbottom=False, labelrotation=90, labelsize=14)
axB.tick_params(axis='x', which='major', length=7, width=1.3)
axB.tick_params(axis='x', which='minor', length=4, width=1.1)

axC.set_xticks([50, 0, -50, -100], labels=['50', '0', '\u221250', '\u2212100'])
axC.set_xticks([v for v in range(60, -140, -10) if v % 50], minor=True)
axC.tick_params(axis='x', which='both', direction='out', top=True, bottom=True,
                labeltop=False, labelbottom=True, labelrotation=90, labelsize=14)
axC.tick_params(axis='x', which='major', length=9, width=1.3)
axC.tick_params(axis='x', which='minor', length=5, width=1.1)

axD.set_xticks([30, 20, 10, 0, -10, -20, -30],
               labels=['30', '20', '10', '0', '\u221210', '\u221220', '\u221230'])
axD.set_xticks([35, 25, 15, 5, -5, -15, -25, -35], minor=True)
axD.tick_params(axis='x', which='both', direction='out', top=True, bottom=True,
                labeltop=True, labelbottom=False, labelrotation=90, labelsize=14,
                length=7, width=1.3)
for s in ('right', 'bottom'):
    axD.spines[s].set_linewidth(2.4)

# ---------------------------------------------------------------- bands
for ax in (axA, axB, axC, axD):
    x0 = 0.08 if ax is axA else 0.0
    for a, b in bands_cold:
        ax.axhspan(a, b, xmin=x0, color=BLUE_BAND, lw=0, zorder=0)
    for a, b in bands_warm:
        ax.axhspan(a, b, xmin=x0, color=ORANGE_BAND, lw=0, zorder=0)
    ax.axhspan(band_mbe[0], band_mbe[1], xmin=x0, color='#C8C8C8', lw=0, zorder=0)
    for t in mis_lines:
        ax.axhline(t, xmin=x0, color='#F7A233', lw=1.8, zorder=1)

for v in (500, 400, 300):
    axA.axvline(v, color='#444444', lw=1.3, ls=(0, (5, 3)), zorder=1)
for v in (20, 10, -10, -20):
    axC.axvline(v, color='#BBBBBB', lw=1.0, ls=(0, (5, 3)), zorder=1)
axC.axvline(0, color='black', lw=1.2, ls=(0, (5, 3)), zorder=1)
for v in (10, 5):
    axD.axvline(v, color='#BBBBBB', lw=1.0, ls=(0, (5, 3)), zorder=1)
axD.axvline(0, color='black', lw=1.2, ls=(0, (5, 3)), zorder=1)

# ---------------------------------------------------------------- panel a
for rows in (co2_sq_pleist, co2_sq_plio, co2_sq_mio):
    t, v, e = cols(rows)
    axA.errorbar(v, t, xerr=e, fmt='s', ms=4.5, mfc='#A020F0', mec='#A020F0',
                 ecolor='#C58CF2', elinewidth=1.0, capsize=3, zorder=3)
for rows in (co2_tri_pleist, co2_tri_plio, co2_tri_mio):
    t, v, e = cols(rows)
    axA.errorbar(v, t, xerr=e, fmt='<', ms=4.5, mfc='#0B6B0B', mec='#0B6B0B',
                 ecolor='#4F9A4F', elinewidth=1.0, capsize=3, alpha=0.9, zorder=4)
t, v = cols(ice_co2)
axA.plot(v, t, color='#3A3AFF', lw=1.1, zorder=5)

# epoch bar
u_max = float(t_fwd(T_MAX))
cm = LinearSegmentedColormap.from_list(
    'epochs', [(float(t_fwd(tt)) / u_max, c) for tt, c in epoch_colors])
axE.imshow(np.linspace(0, 1, 800).reshape(-1, 1), cmap=cm, aspect='auto',
           extent=(0, 1, 1, 0), interpolation='bilinear')
axE.set_xlim(0, 1)
axE.set_ylim(1, 0)
axE.set_xticks([])
axE.set_yticks([])
for s in axE.spines.values():
    s.set_linewidth(1.3)
for tt in epoch_edges:
    axE.axhline(float(t_fwd(tt)) / u_max, color='#222222', lw=1.3)
for name, tt, col in (('Pleistocene', 0.825, 'white'), ('Pliocene', 3.53, 'black'),
                      ('Miocene', 11.0, 'black'), ('Oligo.', 27.7, 'black')):
    axE.text(0.5, float(t_fwd(tt)) / u_max, name, rotation=90, ha='center', va='center',
             fontsize=16, fontweight='bold', color=col)

# ---------------------------------------------------------------- panel b
t, v = cols(d18o_recent)
axB.plot(v, t, color='#959595', lw=1.5, zorder=3)
t, lo, hi = cols(d18o_older)
axB.fill_betweenx(t, lo, hi, color='#9C9C9C', lw=0, zorder=2)
for x, a, b, c, dashed in glac_arrows:
    xd = 1 + (x - 532) / 48.75
    axB.annotate('', xy=(xd, b), xytext=(xd, a),
                 arrowprops=dict(arrowstyle='<|-|>', color=c, lw=1.8, mutation_scale=11,
                                 shrinkA=0, shrinkB=0, ls='--' if dashed else '-'),
                 zorder=6)

# ---------------------------------------------------------------- panel c
t, lo, hi = cols(gmsl_band)
axC.fill_betweenx(t, lo, hi, color='#FFD5DC', lw=0, zorder=2)
t, lo, hi = cols(gmsl_mio_spread)
axC.fill_betweenx(t, lo, hi, color='#B36BF2', alpha=0.4, lw=0, zorder=3)
t, v = cols(gmsl_mio)
axC.plot(v, t, color='#A95CF0', lw=2.0, zorder=4)
t, v = cols(gmsl_plio_pleist)
axC.plot(v, t, color='#4444FF', lw=1.0, zorder=4)
for rows in (gmsl_late_a, gmsl_late_b, gmsl_late_c):
    t, v = cols(rows)
    axC.plot(v, t, color='#4B4BFF', lw=2.2, zorder=5)
t, v = cols(gmsl_pts_rose)
axC.errorbar(v, t, xerr=8, fmt='s', ms=7, mfc='#E3C2C6', mec='#8C8C8C', mew=1,
             ecolor='#D0D0D0', elinewidth=1, zorder=6)
t, v = cols(gmsl_pts_blue)
axC.plot(v[:3], t[:3], color='#3C4CF0', ls='--', lw=1.2, zorder=6)
axC.plot(v, t, 's', ms=7, mfc='#3C4CF0', mec='#3C4CF0', zorder=7)
t, v = cols(gmsl_pts_orange)
axC.plot(v, t, 's', ms=6, mfc='#FFA500', mec='#3C4CF0', zorder=7)

# ---------------------------------------------------------------- panel d
t, v = cols(ais_model)
axD.plot(v, t, color='black', lw=0.9, zorder=3)
t, v = cols(ais_recon)
axD.plot(v, t, color='#0000FF', lw=2.6, zorder=4)
t, v = cols(ais_recon_plio)
axD.plot(v, t, color='#0000FF', lw=2.6, zorder=4)
t, v = cols(ais_pts_orange)
axD.plot(v, t, 's', ms=8, mfc='#FFA500', mec='#7A5200', mew=0.8, zorder=6)
t, v = cols(ais_pts_cyan)
axD.plot(v, t, 's', ms=8, mfc='#00FFFF', mec='#2F7F7F', mew=0.8, zorder=6)
t, v = cols(ais_pts_tri)
axD.plot(v, t, '<', ms=9, mfc='#A52A2A', mec='#6B1A1A', mew=0.8, zorder=6)

# ---------------------------------------------------------------- text
tr = blended_transform_factory(fig.transFigure, axA.transData)


def label(s, x, t, rot=90, **kw):
    kw.setdefault('ha', 'center')
    kw.setdefault('va', 'center')
    return fig.text(x / W, t, s, transform=tr, rotation=rot, **kw)


def ftext(s, x, y, rot=0, **kw):
    kw.setdefault('ha', 'center')
    kw.setdefault('va', 'center')
    return fig.text(x / W, 1 - y / H, s, rotation=rot, **kw)


white = dict(facecolor='white', edgecolor='none', pad=3)
ftext('a. Reconstructed atmospheric CO\u2082 level', 106, 1452, 90, fontsize=17.5,
      fontweight='bold', bbox=white)
ftext('b. Benthic \u2202\u00b9\u2078O', 557, 210, 90, fontsize=16.5, fontweight='bold',
      bbox=white)
ftext('c. Global Mean Sea Level changes', 845, 1495, 90, fontsize=16.5,
      fontweight='bold', bbox=white)
ftext('d. AIS sea level contribution', 892, 266, 90, fontsize=16.5, fontweight='bold',
      bbox=white)

for s, x, t, rot, col in (('LGM', 202, 0.043, 90, NAVY), ('MIS 5', 162, 0.123, 180, '#F7941D'),
                          ('MIS 11', 153, 0.345, 180, '#F7941D'), ('MBE', 195, 0.5, 180, '#4D4D4D'),
                          ('MPT', 203, 0.944, 90, NAVY), ('MIS 31', 153, 1.133, 180, '#F15A29'),
                          ('PPT', 203, 2.74, 90, NAVY), ('mPWP', 150, 3.15, 90, '#FF1A1A'),
                          ('LMC', 204, 6.14, 90, NAVY), ('MMCT', 203, 12.2, 90, NAVY),
                          ('MCO', 151, 16.3, 90, '#D7191C'), ('EOT', 144, 30.8, 90, NAVY)):
    label(s, x, t, rot, fontsize=15, fontweight='bold', color=col)

label('Holocene', 124, 0.05, 90, fontsize=16, fontweight='bold')
fig.patches.append(matplotlib.patches.FancyArrowPatch(
    (111 / W, 1 - 135 / H), (83 / W, 1 - 108 / H), transform=fig.transFigure,
    arrowstyle='-|>', mutation_scale=14, color='black', lw=1.5))

for s, x, t, rot in (('2', 619, 0.02, 90), ('5', 619, 0.123, 90), ('7', 620, 0.198, 90),
                     ('9', 620, 0.325, 90), ('11', 620, 0.395, 90), ('31', 620, 1.07, 90),
                     ('G20', 673, 2.99, 180), ('KM2', 682, 3.13, 180), ('KM3', 602, 3.13, 180),
                     ('KM5c', 590, 3.22, 180), ('M2', 672, 3.32, 90), ('TG20', 665, 5.7, 90),
                     ('Mi-7', 658, 8.0, 180), ('Mi-3', 630, 13.5, 180), ('Mi-2', 615, 16.0, 180),
                     ('Mi-1', 645, 22.9, 180), ('Oi-2b', 650, 26.9, 180), ('Oi-1', 643, 33.1, 180)):
    label(s, x, t, rot, fontsize=12.5)

ftext('pCO\u2082 (ppm)', 300, 1787, 180, fontsize=17)
ftext('(m)', 788, 1787, 180, fontsize=17)
ftext('CO\u2082 (ppm)', 404, 30, 180, fontsize=17, color='#0000FF')
ftext('(\u2030)', 634, 22, 180, fontsize=17)
ftext('(m SLE)', 967, 22, 180, fontsize=17)
ftext('Times (Ma)', 1121, 876, 90, fontsize=18)

# grey page marks along the left edge
for pts in ([(0, 1003), (8, 988), (8, 1114), (0, 1114)],
            [(0, 1271), (8, 1256), (8, 1338), (0, 1344)],
            [(0, 1690), (11, 1710), (11, 1807), (0, 1807)],
            [(22, 1807), (30, 1799), (190, 1799), (196, 1807)]):
    fig.patches.append(Polygon([(x / W, 1 - y / H) for x, y in pts], closed=True,
                               transform=fig.transFigure, color='#C4C4C4', lw=0))

fig.savefig('out.png', dpi=100)
